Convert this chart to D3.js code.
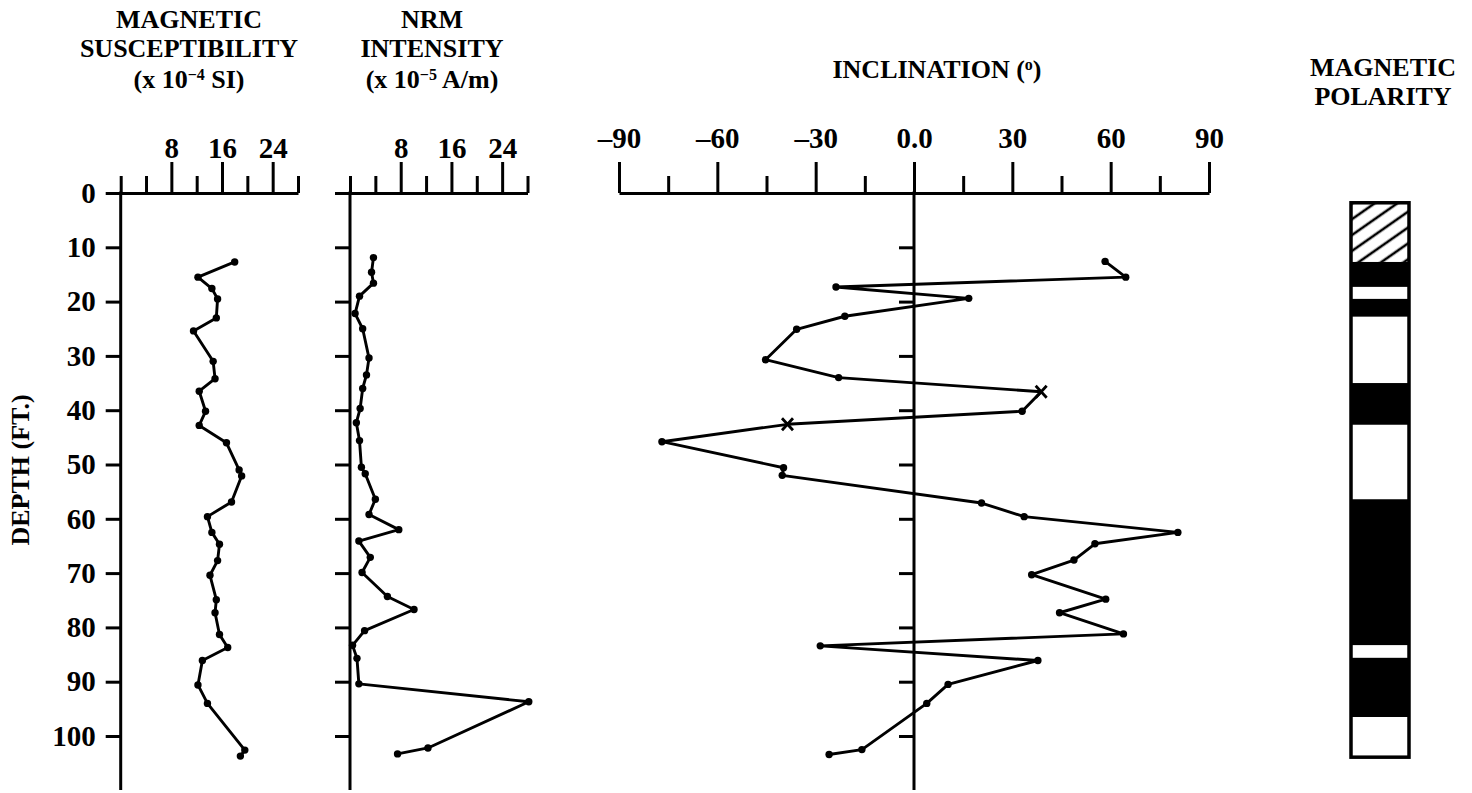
<!DOCTYPE html>
<html>
<head>
<meta charset="utf-8">
<script src="https://cdn.jsdelivr.net/npm/d3@7"></script>
<style>
  body { margin: 0; background: #fff; }
  text { font-family: "Liberation Serif", "Times New Roman", serif; font-weight: bold; fill: #000; }
</style>
</head>
<body>
<div id="chart"></div>
<script>
// depth axis (ft)
const depthTicks = [0, 10, 20, 30, 40, 50, 60, 70, 80, 90, 100];

// magnetic susceptibility (x 10^-4 SI)
const suscTicks = [8, 16, 24];
const suscMinor = [0, 4, 12, 20, 28];
const suscDepth = [12.7, 15.5, 17.6, 19.5, 23.0, 25.4, 31.0, 34.2, 36.5, 40.2, 42.8, 46.0, 51.0, 52.1, 56.9,
  59.6, 62.5, 64.7, 67.7, 70.4, 74.9, 77.3, 81.3, 83.7, 86.1, 90.6, 94.0, 102.6, 103.7];
const suscValue = [18.0, 12.2, 14.4, 15.3, 15.1, 11.5, 14.6, 14.9, 12.4, 13.4, 12.4, 16.7, 18.7, 19.1, 17.5,
  13.7, 14.4, 15.6, 15.3, 14.1, 15.1, 14.9, 15.6, 16.9, 12.9, 12.2, 13.7, 19.6, 18.9];

// NRM intensity (x 10^-5 A/m)
const nrmTicks = [8, 16, 24];
const nrmMinor = [0, 4, 12, 20, 28];
const nrmDepth = [11.9, 14.6, 16.6, 19.0, 22.2, 25.0, 30.4, 33.5, 36.0, 39.7, 42.3, 45.6, 50.5, 51.7, 56.4,
  59.2, 62.0, 64.1, 67.1, 69.9, 74.3, 76.7, 80.6, 83.3, 85.7, 90.4, 93.7, 102.2, 103.3];
const nrmValue = [3.7, 3.4, 3.7, 1.5, 0.8, 2.0, 3.0, 2.6, 2.0, 1.6, 1.0, 1.5, 1.8, 2.4, 4.0,
  3.0, 7.7, 1.4, 3.2, 1.9, 5.9, 10.1, 2.3, 0.4, 1.1, 1.4, 28.2, 12.3, 7.5];

// inclination (degrees); crossed = samples drawn with an x
const incTicks = [-90, -60, -30, 0, 30, 60, 90];
const incMinor = [-75, -45, -15, 15, 45, 75];
const incDepth = [12.6, 15.5, 17.3, 19.4, 22.7, 25.1, 30.7, 34.0, 36.6, 40.2, 42.6, 45.8, 50.6, 52.0, 57.1,
  59.6, 62.5, 64.6, 67.6, 70.3, 74.8, 77.3, 81.2, 83.4, 86.1, 90.5, 94.0, 102.5, 103.4];
const incValue = [58.3, 64.6, -23.8, 16.7, -21.1, -35.8, -45.3, -23.0, 38.8, 33.0, -38.6, -76.9, -39.8, -40.2, 20.6,
  33.6, 80.5, 55.2, 48.8, 35.9, 58.5, 44.4, 63.9, -28.6, 37.8, 10.4, 3.9, -15.9, -25.9];
const incCrossed = [8, 10];

// magnetic polarity column
const polTop    = [1.8, 12.7, 17.3, 19.5, 22.8, 35.0, 42.7, 56.4, 83.3, 85.6, 96.5];
const polBottom = [12.7, 17.3, 19.5, 22.8, 35.0, 42.7, 56.4, 83.3, 85.6, 96.5, 103.9];
const polType   = ['hatch', 'normal', 'reversed', 'normal', 'reversed', 'normal', 'reversed', 'normal', 'reversed', 'normal', 'reversed'];

const width = 1472, height = 793;
const svg = d3.select('#chart').append('svg')
  .attr('width', width)
  .attr('height', height);

const yScale = d3.scaleLinear().domain([0, 100]).range([193, 736]);
const axisBottomY = 790;

const suscScale = d3.scaleLinear().domain([0, 28]).range([120.7, 298]);
const nrmScale = d3.scaleLinear().domain([0, 28]).range([350, 527.5]);
const incScale = d3.scaleLinear().domain([-90, 90]).range([619, 1209]);

function styleAxis(g, fontSize) {
  g.attr('font-family', null).attr('font-size', fontSize);
  g.selectAll('line, path').attr('stroke-width', 3);
}

// one depth panel: horizontal value axis on top, depth axis down the left
function panel(xScale, major, minor, fmt, depthVals, showDepthLabels, pad) {
  const g = svg.append('g');
  const y0 = yScale(0);

  g.append('g')
    .attr('transform', `translate(0,${y0})`)
    .call(d3.axisTop(xScale).tickValues(major).tickFormat(fmt).tickSize(31).tickSizeOuter(0).tickPadding(pad))
    .call(a => styleAxis(a, 29));

  g.append('g')
    .attr('transform', `translate(0,${y0})`)
    .call(d3.axisTop(xScale).tickValues(minor).tickFormat('').tickSize(17).tickSizeOuter(0))
    .call(a => a.select('.domain').remove())
    .call(a => styleAxis(a, 29));

  const x0 = xScale(xScale.domain()[0] < 0 ? 0 : xScale.domain()[0]);
  g.append('g')
    .attr('transform', `translate(${x0},0)`)
    .call(d3.axisLeft(yScale).tickValues(depthVals).tickFormat(showDepthLabels ? d3.format('d') : '').tickSize(15).tickPadding(10))
    .call(a => a.select('.domain').remove())
    .call(a => styleAxis(a, 29));

  g.append('line')
    .attr('x1', x0).attr('x2', x0)
    .attr('y1', y0 - 1.5).attr('y2', axisBottomY)
    .attr('stroke', '#000').attr('stroke-width', 3);
  return g;
}

function series(g, xScale, depth, value, crossed) {
  const pts = depth.map((d, i) => [xScale(value[i]), yScale(d), i]);
  g.append('path')
    .attr('d', d3.line()(pts.map(p => [p[0], p[1]])))
    .attr('fill', 'none')
    .attr('stroke', '#000')
    .attr('stroke-width', 2.9)
    .attr('stroke-linejoin', 'round');
  g.append('g').selectAll('circle')
    .data(pts.filter(p => !crossed.includes(p[2])))
    .join('circle')
      .attr('cx', p => p[0])
      .attr('cy', p => p[1])
      .attr('r', 3.7)
      .attr('fill', '#000');
  g.append('g').selectAll('path')
    .data(pts.filter(p => crossed.includes(p[2])))
    .join('path')
      .attr('d', p => `M${p[0] - 5.5},${p[1] - 6}L${p[0] + 5.5},${p[1] + 6}M${p[0] - 5.5},${p[1] + 6}L${p[0] + 5.5},${p[1] - 6}`)
      .attr('stroke', '#000')
      .attr('stroke-width', 2.8);
}

// titles, one <text> per line
function title(x, lines) {
  lines.forEach(l => {
    const t = svg.append('text')
      .attr('text-anchor', 'middle')
      .attr('font-size', 26)
      .attr('x', x)
      .attr('y', l.y);
    l.parts.forEach(p => {
      const s = t.append('tspan').text(p.t);
      if (p.sup) s.attr('font-size', 16).attr('dy', -8);
      if (p.down) s.attr('dy', 8);
    });
  });
}

title(189, [
  { y: 28, parts: [{ t: 'MAGNETIC' }] },
  { y: 57, parts: [{ t: 'SUSCEPTIBILITY' }] },
  { y: 88, parts: [{ t: '(x 10' }, { t: '−4', sup: true }, { t: ' SI)', down: true }] }
]);
title(432, [
  { y: 28, parts: [{ t: 'NRM' }] },
  { y: 57, parts: [{ t: 'INTENSITY' }] },
  { y: 88, parts: [{ t: '(x 10' }, { t: '−5', sup: true }, { t: ' A/m)', down: true }] }
]);
title(937, [
  { y: 78, parts: [{ t: 'INCLINATION (' }, { t: 'o', sup: true }, { t: ')', down: true }] }
]);
title(1383, [
  { y: 76, parts: [{ t: 'MAGNETIC' }] },
  { y: 105, parts: [{ t: 'POLARITY' }] }
]);

svg.append('text')
  .attr('transform', `translate(29,${yScale(51)}) rotate(-90)`)
  .attr('text-anchor', 'middle')
  .attr('font-size', 26)
  .text('DEPTH (FT.)');

const p1 = panel(suscScale, suscTicks, suscMinor, d3.format('d'), depthTicks, true, 4);
series(p1, suscScale, suscDepth, suscValue, []);

const p2 = panel(nrmScale, nrmTicks, nrmMinor, d3.format('d'), depthTicks, false, 4);
series(p2, nrmScale, nrmDepth, nrmValue, []);

const incFmt = d => d === 0 ? '0.0' : (d < 0 ? '–' + (-d) : String(d));
const p3 = panel(incScale, incTicks, incMinor, incFmt, depthTicks.filter(d => d > 0), false, 14);
series(p3, incScale, incDepth, incValue, incCrossed);

// polarity column
const defs = svg.append('defs');
const pat = defs.append('pattern')
  .attr('id', 'hatch')
  .attr('patternUnits', 'userSpaceOnUse')
  .attr('width', 13).attr('height', 13)
  .attr('patternTransform', 'rotate(-35)');
pat.append('line')
  .attr('x1', 0).attr('x2', 13).attr('y1', 6).attr('y2', 6)
  .attr('stroke', '#000').attr('stroke-width', 2.6);

const polX = 1351, polW = 58;
const polFill = { hatch: 'url(#hatch)', normal: '#000', reversed: '#fff' };
svg.append('g').selectAll('rect')
  .data(polTop.map((t, i) => ({ top: t, bottom: polBottom[i], type: polType[i] })))
  .join('rect')
    .attr('x', polX)
    .attr('y', d => yScale(d.top))
    .attr('width', polW)
    .attr('height', d => yScale(d.bottom) - yScale(d.top))
    .attr('fill', d => polFill[d.type]);
svg.append('rect')
  .attr('x', polX)
  .attr('y', yScale(polTop[0]))
  .attr('width', polW)
  .attr('height', yScale(polBottom[polBottom.length - 1]) - yScale(polTop[0]))
  .attr('fill', 'none')
  .attr('stroke', '#000')
  .attr('stroke-width', 3.5);
</script>
</body>
</html>
